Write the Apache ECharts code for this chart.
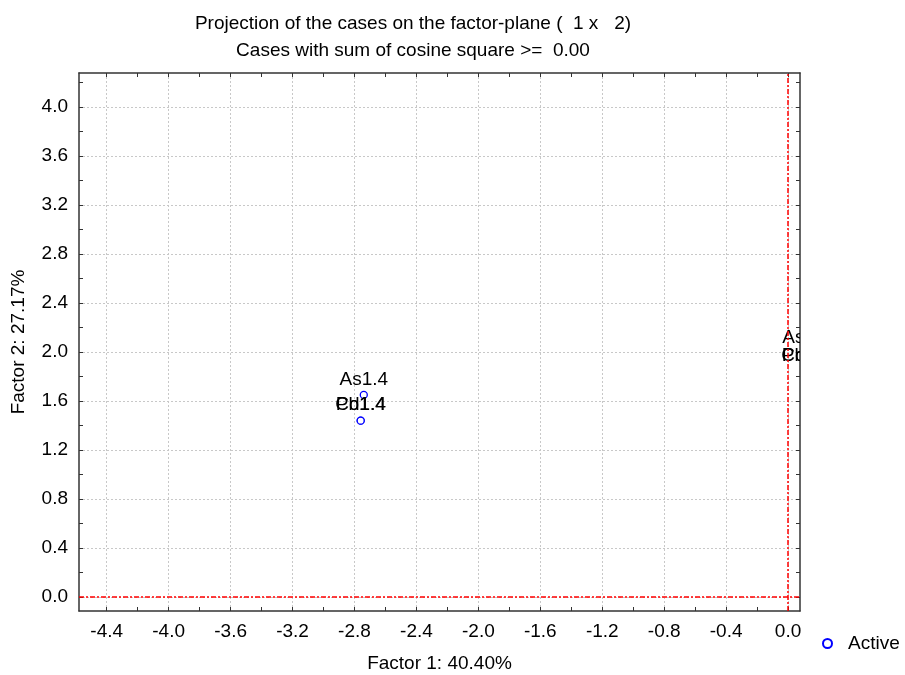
<!DOCTYPE html>
<html>
<head>
<meta charset="utf-8">
<script src="https://cdn.jsdelivr.net/npm/echarts@6/dist/echarts.min.js"></script>
<style>
html, body { margin: 0; padding: 0; background: #fff; }
#main { width: 905px; height: 675px; }
</style>
</head>
<body>
<div id="main"></div>
<script>
// case labels and their coordinates on the factor plane
var caseNames = ['As1.4', 'Cd1.4', 'Pb1.4', 'As1.2', 'Cd1.2', 'Pb1.2'];
var factor1 = [-2.74, -2.76, -2.76, 0.12, 0.12, 0.12];
var factor2 = [1.65, 1.44, 1.44, 1.99, 1.84, 1.84];

// tick labels
var xTicks = [-4.4, -4.0, -3.6, -3.2, -2.8, -2.4, -2.0, -1.6, -1.2, -0.8, -0.4, 0.0];
var yTicks = [0.0, 0.4, 0.8, 1.2, 1.6, 2.0, 2.4, 2.8, 3.2, 3.6, 4.0];
var xMinor = [-4.4, -4.2, -4.0, -3.8, -3.6, -3.4, -3.2, -3.0, -2.8, -2.6, -2.4, -2.2, -2.0,
              -1.8, -1.6, -1.4, -1.2, -1.0, -0.8, -0.6, -0.4, -0.2, 0.0];
var yMinor = [0.0, 0.2, 0.4, 0.6, 0.8, 1.0, 1.2, 1.4, 1.6, 1.8, 2.0, 2.2, 2.4, 2.6, 2.8,
              3.0, 3.2, 3.4, 3.6, 3.8, 4.0, 4.2];

var xMin = -4.579, xMax = 0.077;
var yMin = -0.114, yMax = 4.278;

var FONT = "'Liberation Sans', Arial, sans-serif";

var myChart = echarts.init(document.getElementById('main'));

var frameLine = { show: true, onZero: false, lineStyle: { color: '#333', width: 1.5 } };
var noLine = { show: false, onZero: false };

function fmt(v) { return Number(v).toFixed(1); }

function tick(vals) {
    return { show: true, inside: true, length: 4, customValues: vals, lineStyle: { color: '#333' } };
}

var option = {
    backgroundColor: '#fff',
    animation: false,
    title: [
        {
            text: 'Projection of the cases on the factor-plane (  1 x   2)',
            left: 408, top: 9, textAlign: 'center',
            textStyle: { fontFamily: FONT, fontSize: 19, fontWeight: 'normal', color: '#000' }
        },
        {
            text: 'Cases with sum of cosine square >=  0.00',
            left: 408, top: 36, textAlign: 'center',
            textStyle: { fontFamily: FONT, fontSize: 19, fontWeight: 'normal', color: '#000' }
        }
    ],
    legend: {
        data: [{ name: 'Active', icon: 'emptyCircle' }],
        left: 817, top: 629,
        itemWidth: 9, itemHeight: 9, itemGap: 5,
        textStyle: { fontFamily: FONT, fontSize: 19, color: '#000', padding: [0, 0, 0, 11] }
    },
    grid: { left: 79, right: 105, top: 73, bottom: 64, outerBoundsMode: 'none' },
    xAxis: [
        {
            type: 'value', position: 'bottom', min: xMin, max: xMax,
            name: 'Factor 1: 40.40%', nameLocation: 'middle', nameGap: 43,
            nameTextStyle: { fontFamily: FONT, fontSize: 19, color: '#000' },
            axisLine: frameLine,
            axisTick: tick(xTicks),
            axisLabel: { customValues: xTicks, formatter: fmt, margin: 11, fontFamily: FONT, fontSize: 19, color: '#000' },
            splitLine: { show: true, lineStyle: { color: '#c8c8c8', type: [2, 2] } }
        },
        {
            type: 'value', position: 'bottom', min: xMin, max: xMax,
            axisLine: noLine,
            axisTick: tick(xMinor),
            axisLabel: { show: false },
            splitLine: { show: false }
        },
        {
            type: 'value', position: 'top', min: xMin, max: xMax,
            axisLine: frameLine,
            axisTick: tick(xMinor),
            axisLabel: { show: false },
            splitLine: { show: false }
        }
    ],
    yAxis: [
        {
            type: 'value', position: 'left', min: yMin, max: yMax,
            name: 'Factor 2: 27.17%', nameLocation: 'middle', nameGap: 51,
            nameTextStyle: { fontFamily: FONT, fontSize: 19, color: '#000' },
            axisLine: frameLine,
            axisTick: tick(yTicks),
            axisLabel: { customValues: yTicks, formatter: fmt, margin: 11, fontFamily: FONT, fontSize: 19, color: '#000' },
            splitLine: { show: true, lineStyle: { color: '#c8c8c8', type: [2, 2] } }
        },
        {
            type: 'value', position: 'left', min: yMin, max: yMax,
            axisLine: noLine,
            axisTick: tick(yMinor),
            axisLabel: { show: false },
            splitLine: { show: false }
        },
        {
            type: 'value', position: 'right', min: yMin, max: yMax,
            axisLine: frameLine,
            axisTick: tick(yMinor),
            axisLabel: { show: false },
            splitLine: { show: false }
        }
    ],
    series: [
        {
            name: 'Active',
            type: 'custom',
            xAxisIndex: 0,
            yAxisIndex: 0,
            clip: true,
            itemStyle: { color: '#0000ff' },
            data: factor1.map(function (x, i) { return [x, factor2[i]]; }),
            renderItem: function (params, api) {
                var p = api.coord([api.value(0), api.value(1)]);
                return {
                    type: 'group',
                    children: [
                        {
                            type: 'circle',
                            shape: { cx: p[0], cy: p[1], r: 3.5 },
                            style: { fill: '#fff', stroke: '#0000ff', lineWidth: 1.3 }
                        },
                        {
                            type: 'text',
                            x: p[0], y: p[1] - 6,
                            style: {
                                text: caseNames[params.dataIndex],
                                fill: '#000',
                                font: '19px ' + FONT,
                                align: 'center',
                                verticalAlign: 'bottom'
                            }
                        }
                    ]
                };
            },
            markLine: {
                silent: true,
                symbol: 'none',
                z: 10,
                label: { show: false },
                lineStyle: { color: '#ff0000', width: 1.5, type: [5, 2, 2, 2] },
                data: [{ xAxis: 0 }, { yAxis: 0 }]
            }
        }
    ]
};

myChart.setOption(option);
</script>
</body>
</html>
